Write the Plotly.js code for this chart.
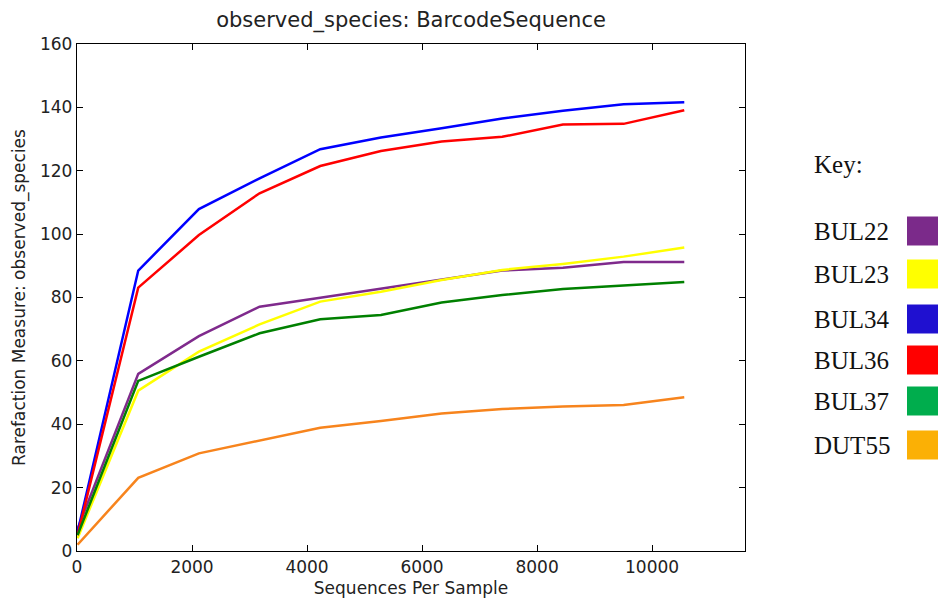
<!DOCTYPE html>
<html><head><meta charset="utf-8">
<script src="https://cdn.plot.ly/plotly-3.0.1.min.js"></script>
<style>body{margin:0;background:#fff}#chart{width:942px;height:610px}</style>
</head><body><div id="chart"></div>
<script>
const depths = [10, 1065, 2120, 3175, 4230, 5285, 6340, 7395, 8450, 9505, 10560];
const sampleNames = ["BUL22", "BUL23", "BUL34", "BUL36", "BUL37", "DUT55"];
const BUL22 = [7, 55.9, 67.8, 77.1, 79.9, 82.7, 85.7, 88.5, 89.4, 91.2, 91.2];
const BUL23 = [4, 50.6, 62.9, 71.5, 78.7, 81.8, 85.5, 88.7, 90.6, 92.9, 95.8];
const BUL34 = [6, 88.5, 107.9, 117.6, 126.8, 130.5, 133.4, 136.5, 138.9, 141.0, 141.6];
const BUL36 = [5, 83.1, 99.7, 112.9, 121.5, 126.2, 129.2, 130.7, 134.6, 134.8, 139.1];
const BUL37 = [5, 53.7, 61.3, 68.7, 73.1, 74.5, 78.4, 80.8, 82.7, 83.7, 84.9];
const DUT55 = [2, 23.1, 30.8, 34.8, 38.9, 41.0, 43.4, 44.8, 45.6, 46.1, 48.5];
const lineColors = ["#7f2a8c", "#ffff00", "#0000ff", "#ff0000", "#008000", "#f7841d"];
const keyColors = ["#7b2a8a", "#ffff00", "#1f10d0", "#ff0000", "#00ad4d", "#fbb005"];
const seriesValues = [BUL22, BUL23, BUL34, BUL36, BUL37, DUT55];
const xTicks = [0, 2000, 4000, 6000, 8000, 10000];
const yTicks = [0, 20, 40, 60, 80, 100, 120, 140, 160];

const traces = sampleNames.map((n, i) => ({
  x: depths, y: seriesValues[i], type: 'scatter', mode: 'lines', name: n,
  line: {color: lineColors[i], width: 2.5}, showlegend: false
}));

const W = 668, H = 507;
const keyY = [231, 274, 319, 360, 401, 445];
const annotations = [{
  text: 'Key:', xref: 'paper', yref: 'paper', x: (812 - 77) / W, y: (551 - 164) / H,
  xanchor: 'left', yanchor: 'middle', showarrow: false,
  font: {family: 'Liberation Serif, Times New Roman, serif', size: 25, color: '#111'}
}];
const shapes = [];
sampleNames.forEach((n, i) => {
  annotations.push({
    text: n, xref: 'paper', yref: 'paper', x: (812 - 77) / W, y: (551 - keyY[i]) / H,
    xanchor: 'left', yanchor: 'middle', showarrow: false,
    font: {family: 'Liberation Serif, Times New Roman, serif', size: 25, color: '#111'}
  });
  shapes.push({
    type: 'rect', xref: 'paper', yref: 'paper',
    x0: (907 - 77) / W, x1: (938 - 77) / W,
    y0: (551 - keyY[i] - 14.5) / H, y1: (551 - keyY[i] + 14.5) / H,
    fillcolor: keyColors[i], line: {width: 0}
  });
});

const tickFont = {family: 'DejaVu Sans, sans-serif', size: 17, color: '#222'};
const titleFont = {family: 'DejaVu Sans, sans-serif', size: 17, color: '#222'};
const layout = {
  width: 942, height: 610,
  margin: {l: 77, r: 197, t: 44, b: 59},
  paper_bgcolor: '#fff', plot_bgcolor: '#fff',
  title: {text: 'observed_species: BarcodeSequence', x: 411 / 942, xanchor: 'center',
          y: 1 - 20 / 610, yanchor: 'middle',
          font: {family: 'DejaVu Sans, sans-serif', size: 21, color: '#222'}},
  xaxis: {
    range: [0, 11616], tickvals: xTicks, ticktext: xTicks.map(String),
    ticks: 'inside', ticklen: 6, tickcolor: '#000', mirror: 'ticks',
    showline: true, linecolor: '#000', linewidth: 1.2, showgrid: false, zeroline: false,
    tickfont: tickFont,
    title: {text: 'Sequences Per Sample', font: titleFont, standoff: 6}
  },
  yaxis: {
    range: [0, 160], tickvals: yTicks, ticktext: yTicks.map(String),
    ticks: 'inside', ticklen: 6, tickcolor: '#000', mirror: 'ticks',
    showline: true, linecolor: '#000', linewidth: 1.2, showgrid: false, zeroline: false,
    tickfont: tickFont,
    title: {text: 'Rarefaction Measure: observed_species', font: titleFont, standoff: 10}
  },
  annotations: annotations, shapes: shapes
};
Plotly.newPlot('chart', traces, layout, {displayModeBar: false, staticPlot: true});
</script></body></html>
